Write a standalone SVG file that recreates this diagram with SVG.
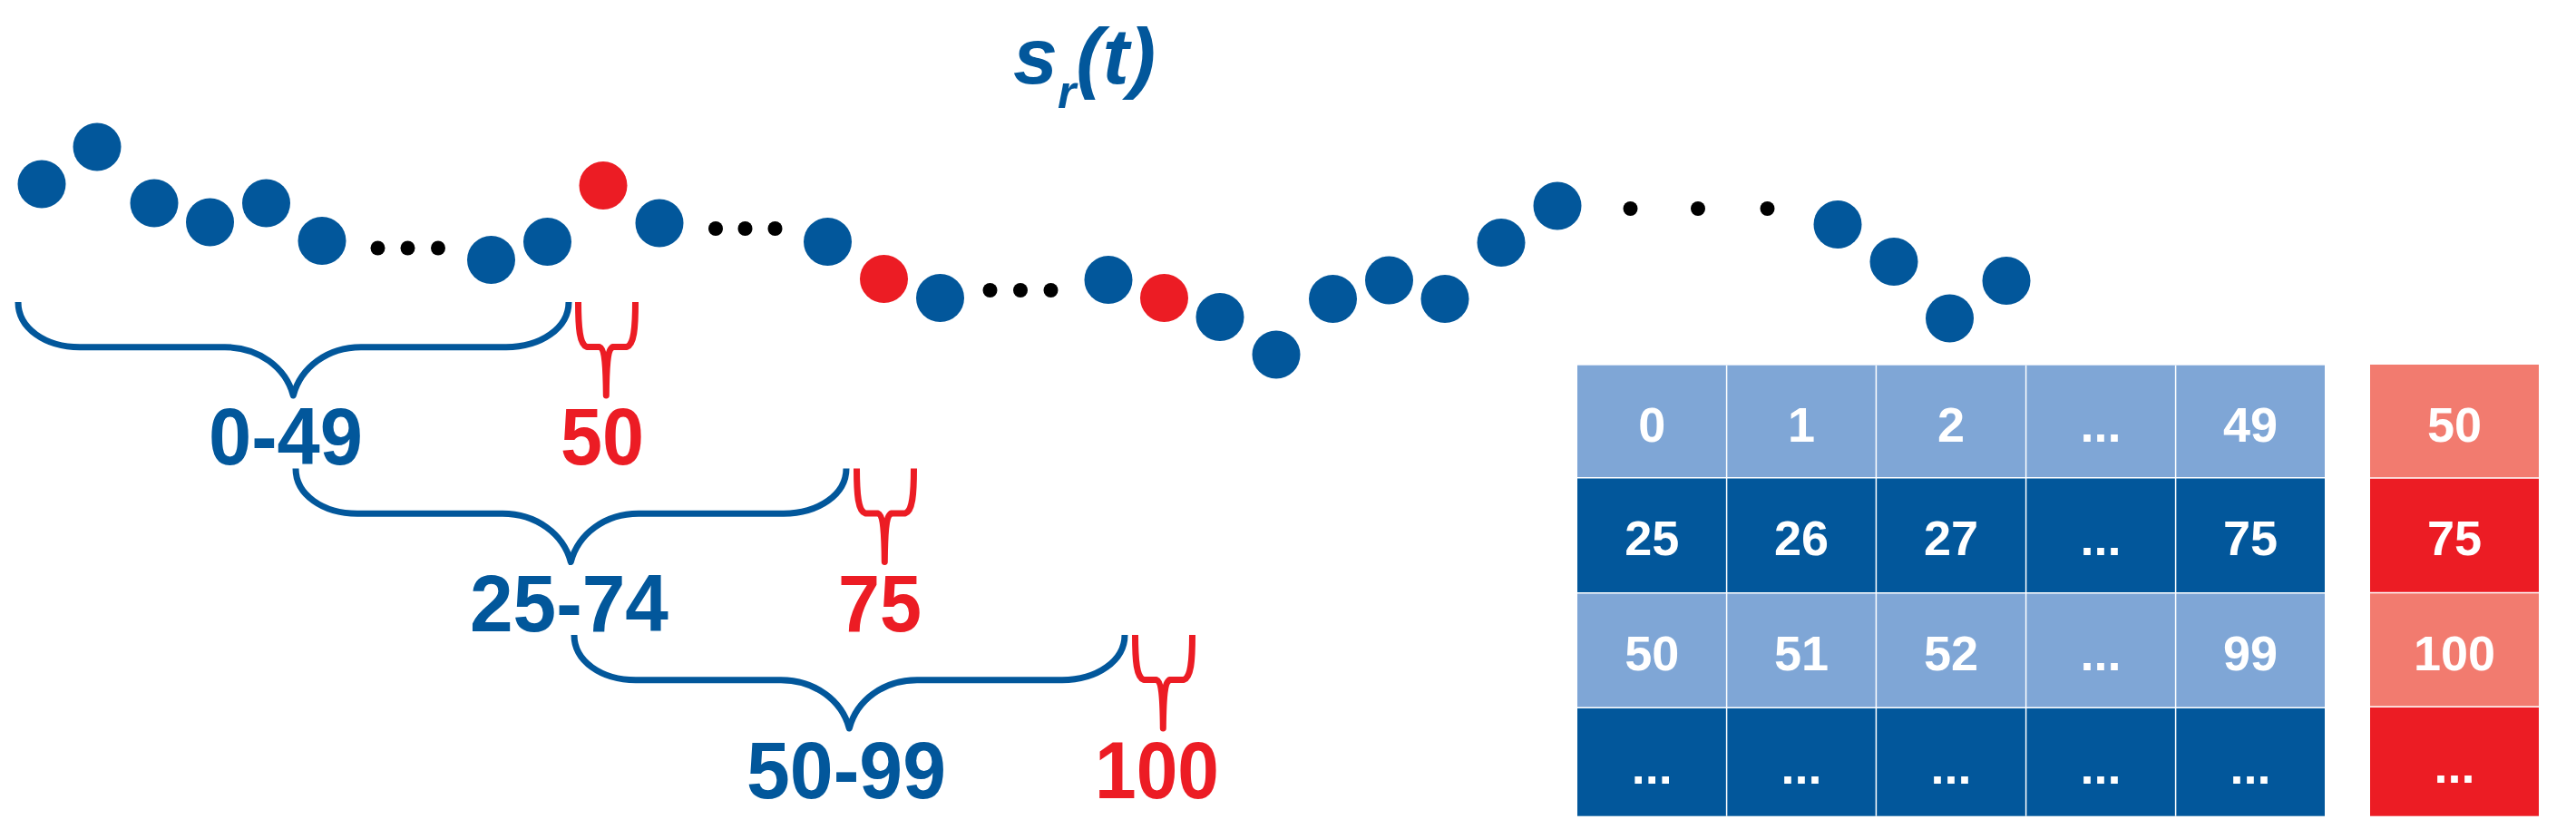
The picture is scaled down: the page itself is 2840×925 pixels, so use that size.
<svg xmlns="http://www.w3.org/2000/svg" width="2840" height="925" viewBox="0 0 2840 925">
<defs>
<style>
.b{fill:#02579B}
.r{fill:#EC1C24}
.k{fill:#000}
.bb{fill:none;stroke:#02579B;stroke-width:7;stroke-linejoin:round}
.rb{fill:none;stroke:#EC1C24;stroke-width:7;stroke-linejoin:round}
.lbl{font-family:"Liberation Sans",Arial,sans-serif;font-weight:bold;font-size:89px;text-anchor:middle}
.lb{fill:#02579B}
.lr{fill:#EC1C24}
.cell{font-family:"Liberation Sans",Arial,sans-serif;font-weight:bold;font-size:54px;fill:#fff;text-anchor:middle}
.c1{fill:#7FA6D6}
.c2{fill:#02579B}
.c3{fill:#F27B6F}
.c4{fill:#EC1C24}
.sep{stroke:#fff;stroke-width:1.5}
</style>
<path id="bbrace" d="M20,333 C20,362 50,382.7 88,382.7 L248,382.7 C285,382.7 315,405 323.3,436 C331.6,405 361,382.7 398,382.7 L558,382.7 C596,382.7 627,362 627,333"/>
<path id="rbrace" d="M637.5,333 C637.5,362 639,380 647,382.5 L661,382.5 C666,384 668,400 668.3,436 C668.6,400 670,384 676,382.5 L691,382.5 C699,380 700.5,362 700.5,333"/>
</defs>
<rect width="2840" height="925" fill="#fff"/>

<g id="title">
<text x="1117" y="92" font-family="Liberation Sans, Arial, sans-serif" font-weight="bold" font-style="italic" font-size="88" fill="#02579B">s<tspan font-size="52" dy="27">r</tspan><tspan dy="-27">(t)</tspan></text>
</g>

<g id="signal">
<circle class="b" cx="46" cy="203" r="26.5"/>
<circle class="b" cx="107" cy="162" r="26.5"/>
<circle class="b" cx="170" cy="224" r="26.5"/>
<circle class="b" cx="231.5" cy="245" r="26.5"/>
<circle class="b" cx="293.5" cy="224" r="26.5"/>
<circle class="b" cx="355" cy="265.5" r="26.5"/>
<circle class="k" cx="416.5" cy="273.5" r="8"/>
<circle class="k" cx="449.5" cy="273.5" r="8"/>
<circle class="k" cx="483" cy="273.5" r="8"/>
<circle class="b" cx="541.5" cy="286.5" r="26.5"/>
<circle class="b" cx="603.5" cy="266.5" r="26.5"/>
<circle class="r" cx="665" cy="204.5" r="26.5"/>
<circle class="b" cx="727" cy="246" r="26.5"/>
<circle class="k" cx="789" cy="252" r="8"/>
<circle class="k" cx="821.5" cy="252" r="8"/>
<circle class="k" cx="854.5" cy="252" r="8"/>
<circle class="b" cx="912.5" cy="266.5" r="26.5"/>
<circle class="r" cx="974.5" cy="307.5" r="26.5"/>
<circle class="b" cx="1036.5" cy="328.5" r="26.5"/>
<circle class="k" cx="1091.5" cy="320" r="8"/>
<circle class="k" cx="1125" cy="320" r="8"/>
<circle class="k" cx="1158.5" cy="320" r="8"/>
<circle class="b" cx="1222" cy="308.5" r="26.5"/>
<circle class="r" cx="1283.5" cy="328.5" r="26.5"/>
<circle class="b" cx="1345" cy="349.5" r="26.5"/>
<circle class="b" cx="1407" cy="391" r="26.5"/>
<circle class="b" cx="1469.5" cy="329.5" r="26.5"/>
<circle class="b" cx="1531.5" cy="309" r="26.5"/>
<circle class="b" cx="1593" cy="329.5" r="26.5"/>
<circle class="b" cx="1655" cy="267.5" r="26.5"/>
<circle class="b" cx="1717" cy="227" r="26.5"/>
<circle class="k" cx="1797.5" cy="230" r="8"/>
<circle class="k" cx="1872" cy="230" r="8"/>
<circle class="k" cx="1948.5" cy="230" r="8"/>
<circle class="b" cx="2026" cy="247.5" r="26.5"/>
<circle class="b" cx="2088" cy="288.5" r="26.5"/>
<circle class="b" cx="2149.5" cy="351" r="26.5"/>
<circle class="b" cx="2212" cy="309.5" r="26.5"/>
</g>

<g id="braces">
<use href="#bbrace" class="bb"/>
<use href="#rbrace" class="rb"/>
<use href="#bbrace" class="bb" transform="translate(306,183.5)"/>
<use href="#rbrace" class="rb" transform="translate(307,183.5)"/>
<use href="#bbrace" class="bb" transform="translate(613,367)"/>
<use href="#rbrace" class="rb" transform="translate(614,367)"/>
</g>

<g id="labels">
<text class="lbl lb" x="315" y="512" textLength="170" lengthAdjust="spacingAndGlyphs">0-49</text>
<text class="lbl lr" x="664" y="512" textLength="92" lengthAdjust="spacingAndGlyphs">50</text>
<text class="lbl lb" x="627.5" y="696" textLength="219" lengthAdjust="spacingAndGlyphs">25-74</text>
<text class="lbl lr" x="970" y="696" textLength="92" lengthAdjust="spacingAndGlyphs">75</text>
<text class="lbl lb" x="933" y="880" textLength="220" lengthAdjust="spacingAndGlyphs">50-99</text>
<text class="lbl lr" x="1275.5" y="880" textLength="137" lengthAdjust="spacingAndGlyphs">100</text>
</g>

<g id="table">
<rect class="c1" x="1739" y="402.7" width="824" height="124"/>
<rect class="c2" x="1739" y="526.7" width="824" height="127"/>
<rect class="c1" x="1739" y="653.7" width="824" height="126.6"/>
<rect class="c2" x="1739" y="780.3" width="824" height="119.4"/>
<line class="sep" x1="1903.6" y1="402.7" x2="1903.6" y2="899.7"/>
<line class="sep" x1="2068.4" y1="402.7" x2="2068.4" y2="899.7"/>
<line class="sep" x1="2233.6" y1="402.7" x2="2233.6" y2="899.7"/>
<line class="sep" x1="2398.6" y1="402.7" x2="2398.6" y2="899.7"/>
<line class="sep" x1="1739" y1="526.7" x2="2563" y2="526.7"/>
<line class="sep" x1="1739" y1="653.7" x2="2563" y2="653.7"/>
<line class="sep" x1="1739" y1="780.3" x2="2563" y2="780.3"/>
<text class="cell" x="1821.3" y="487">0</text>
<text class="cell" x="1986" y="487">1</text>
<text class="cell" x="2151" y="487">2</text>
<text class="cell" x="2316" y="487">...</text>
<text class="cell" x="2481" y="487">49</text>
<text class="cell" x="1821.3" y="612">25</text>
<text class="cell" x="1986" y="612">26</text>
<text class="cell" x="2151" y="612">27</text>
<text class="cell" x="2316" y="612">...</text>
<text class="cell" x="2481" y="612">75</text>
<text class="cell" x="1821.3" y="739">50</text>
<text class="cell" x="1986" y="739">51</text>
<text class="cell" x="2151" y="739">52</text>
<text class="cell" x="2316" y="739">...</text>
<text class="cell" x="2481" y="739">99</text>
<text class="cell" x="1821.3" y="864">...</text>
<text class="cell" x="1986" y="864">...</text>
<text class="cell" x="2151" y="864">...</text>
<text class="cell" x="2316" y="864">...</text>
<text class="cell" x="2481" y="864">...</text>
</g>

<g id="targets">
<rect class="c3" x="2613" y="402" width="186" height="125"/>
<rect class="c4" x="2613" y="527" width="186" height="126.5"/>
<rect class="c3" x="2613" y="653.5" width="186" height="125.8"/>
<rect class="c4" x="2613" y="779.3" width="186" height="120.4"/>
<line class="sep" x1="2613" y1="527" x2="2799" y2="527"/>
<line class="sep" x1="2613" y1="653.5" x2="2799" y2="653.5"/>
<line class="sep" x1="2613" y1="779.3" x2="2799" y2="779.3"/>
<text class="cell" x="2706" y="487">50</text>
<text class="cell" x="2706" y="612">75</text>
<text class="cell" x="2706" y="739">100</text>
<text class="cell" x="2706" y="863">...</text>
</g>
</svg>
